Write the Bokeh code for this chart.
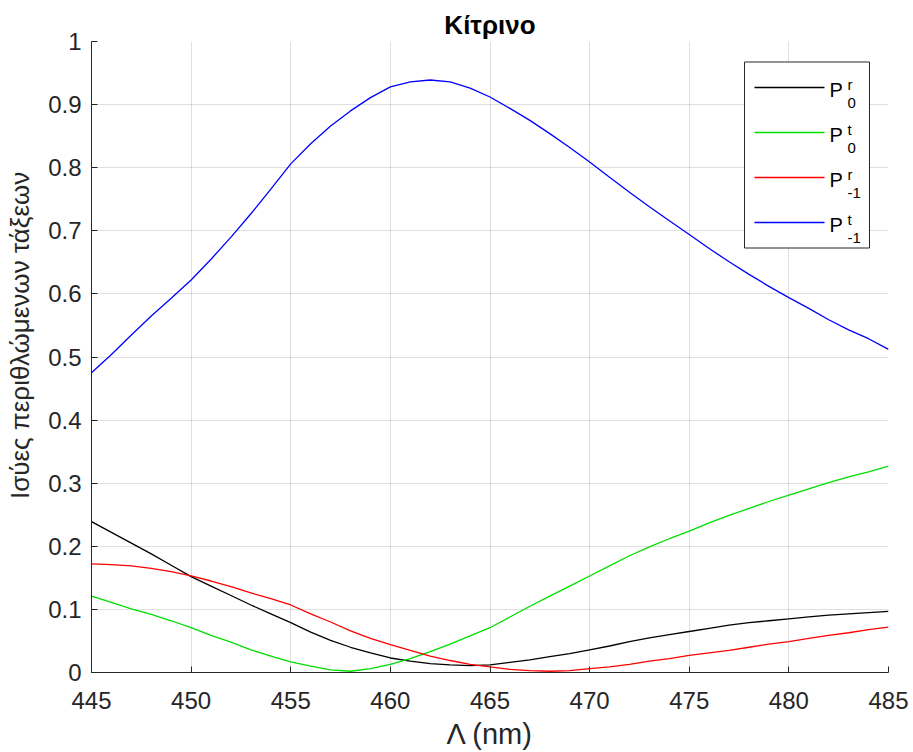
from bokeh.plotting import figure
from bokeh.models import (Range1d, FixedTicker, NumeralTickFormatter, Label,
                          BoxAnnotation)
from bokeh.embed import file_html
from bokeh.resources import INLINE

# Grating period (nm)
wavelength = list(range(445, 486))

# Diffraction efficiencies of the orders
p0_r = [0.239, 0.222, 0.205, 0.188, 0.170, 0.152, 0.137, 0.122, 0.107, 0.093,
        0.079, 0.064, 0.051, 0.040, 0.031, 0.023, 0.018, 0.014, 0.012, 0.011,
        0.012, 0.016, 0.020, 0.025, 0.030, 0.036, 0.042, 0.049, 0.055, 0.060,
        0.065, 0.070, 0.075, 0.079, 0.082, 0.085, 0.088, 0.091, 0.093, 0.095,
        0.097]
p0_t = [0.121, 0.111, 0.101, 0.092, 0.082, 0.071, 0.059, 0.048, 0.036, 0.026,
        0.017, 0.010, 0.004, 0.002, 0.006, 0.013, 0.022, 0.033, 0.045, 0.058,
        0.071, 0.088, 0.105, 0.121, 0.137, 0.153, 0.169, 0.185, 0.199, 0.212,
        0.224, 0.237, 0.249, 0.260, 0.271, 0.281, 0.291, 0.301, 0.310, 0.318,
        0.327]
pm1_r = [0.172, 0.171, 0.169, 0.165, 0.160, 0.153, 0.145, 0.136, 0.126, 0.117,
         0.107, 0.093, 0.080, 0.066, 0.054, 0.044, 0.035, 0.026, 0.019, 0.013,
         0.009, 0.005, 0.003, 0.002, 0.003, 0.006, 0.009, 0.013, 0.018, 0.022,
         0.027, 0.031, 0.035, 0.040, 0.045, 0.049, 0.054, 0.059, 0.063, 0.068,
         0.072]
pm1_t = [0.475, 0.504, 0.535, 0.565, 0.593, 0.622, 0.655, 0.690, 0.727, 0.766,
         0.806, 0.838, 0.866, 0.890, 0.911, 0.928, 0.936, 0.939, 0.936, 0.926,
         0.912, 0.894, 0.875, 0.854, 0.832, 0.809, 0.785, 0.761, 0.738, 0.716,
         0.694, 0.672, 0.651, 0.631, 0.612, 0.594, 0.577, 0.559, 0.543, 0.529,
         0.512]

x_ticks = [445, 450, 455, 460, 465, 470, 475, 480, 485]
y_ticks = [0.0, 0.1, 0.2, 0.3, 0.4, 0.5, 0.6, 0.7, 0.8, 0.9, 1.0]

series = [
    (p0_r, "#000000", "r", "0"),
    (p0_t, "#00dd00", "t", "0"),
    (pm1_r, "#ff0000", "r", "-1"),
    (pm1_t, "#0000ff", "t", "-1"),
]

FONT = "Liberation Sans"
INK = "#262626"
LINE_W = 1.3

p = figure(width=913, height=752, output_backend="svg", toolbar_location=None,
           x_range=Range1d(445, 485), y_range=Range1d(0, 1),
           min_border_left=91, min_border_right=25,
           min_border_top=41, min_border_bottom=80,
           title="Κίτρινο")
p.background_fill_color = "white"
p.border_fill_color = "white"
p.outline_line_color = None

p.title.align = "center"
p.title.text_font = FONT
p.title.text_font_size = "26px"
p.title.text_font_style = "bold"
p.title.text_color = "#000000"
p.title.standoff = 4

for ax, ticks in ((p.xaxis, x_ticks), (p.yaxis, y_ticks)):
    ax.ticker = FixedTicker(ticks=ticks)
    ax.major_tick_in = 6
    ax.major_tick_out = 0
    ax.minor_tick_line_color = None
    ax.axis_line_color = INK
    ax.major_tick_line_color = INK
    ax.major_label_text_font = FONT
    ax.major_label_text_font_size = "24px"
    ax.major_label_text_color = INK
    ax.axis_label_text_font = FONT
    ax.axis_label_text_font_style = "normal"
    ax.axis_label_text_color = INK

p.yaxis.formatter = NumeralTickFormatter(format="0.[0]")
p.xaxis.axis_label = "Λ (nm)"
# leading no-break spaces nudge the visible title a little towards the top
p.yaxis.axis_label = "\u00a0" * 6 + "Ισύες περιθλώμενων τάξεων"
p.xaxis.axis_label_text_font_size = "29px"
p.yaxis.axis_label_text_font_size = "26px"
p.xaxis.major_label_standoff = 19
p.yaxis.major_label_standoff = 10
p.xaxis.axis_label_standoff = 6
p.yaxis.axis_label_standoff = 10

p.xgrid.ticker = FixedTicker(ticks=x_ticks)
p.ygrid.ticker = FixedTicker(ticks=y_ticks)
for g in (p.xgrid, p.ygrid):
    g.grid_line_color = INK
    g.grid_line_alpha = 0.15

for ys, color, _, _ in series:
    p.line(wavelength, ys, line_color=color, line_width=LINE_W)

# Legend (offsets in px, measured from the plot frame's lower-left corner)
pad, row_h, gap, sample_w = 10, 31, 14, 70
leg_x, leg_y, leg_w = 653, 424.5, 125
leg_h = 2 * pad + 4 * row_h + 3 * gap
leg_top = leg_y + leg_h

p.add_layout(BoxAnnotation(left=leg_x, right=leg_x + leg_w, bottom=leg_y, top=leg_top,
                           left_units="screen", right_units="screen",
                           bottom_units="screen", top_units="screen",
                           fill_color="white", fill_alpha=1.0,
                           line_color=INK, line_width=1, line_alpha=1.0))

p_x = leg_x + pad + sample_w + 5
for i, (_, color, sup, sub) in enumerate(series):
    centre = leg_top - pad - row_h / 2 - i * (row_h + gap)
    # sample line
    p.add_layout(BoxAnnotation(left=leg_x + pad, right=leg_x + pad + sample_w,
                               bottom=centre - LINE_W / 2, top=centre + LINE_W / 2,
                               left_units="screen", right_units="screen",
                               bottom_units="screen", top_units="screen",
                               fill_color=color, fill_alpha=1.0, line_color=None))
    # P with stacked superscript (r/t) and subscript (order)
    p.add_layout(Label(x=p_x, y=centre - 2, x_units="screen", y_units="screen",
                       text="P", text_font=FONT, text_font_size="20px",
                       text_color="#000000", text_baseline="alphabetic",
                       text_align="left"))
    for text, dy in ((sup, 3), (sub, -15)):
        p.add_layout(Label(x=p_x + 18, y=centre + dy, x_units="screen", y_units="screen",
                           text=text, text_font=FONT, text_font_size="15px",
                           text_color="#000000", text_baseline="alphabetic",
                           text_align="left"))

open("out.html", "w").write(file_html(p, INLINE))
